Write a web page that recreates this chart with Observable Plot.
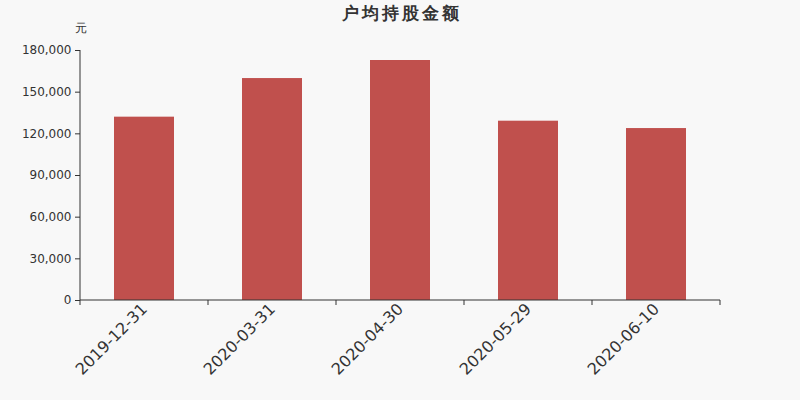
<!DOCTYPE html>
<html>
<head>
<meta charset="utf-8">
<script src="https://cdn.jsdelivr.net/npm/d3@7"></script>
<script src="https://cdn.jsdelivr.net/npm/@observablehq/plot@0.6"></script>
<style>
  html, body { margin: 0; padding: 0; background: #f8f8f8; }
  #chart svg { display: block; }
  .title-mark text { letter-spacing: 3px; }
</style>
</head>
<body>
<div id="chart"></div>
<script>
const dates = ["2019-12-31", "2020-03-31", "2020-04-30", "2020-05-29", "2020-06-10"];
const values = [132000, 159800, 172800, 129100, 123800];
const yTicks = [0, 30000, 60000, 90000, 120000, 150000, 180000];
const title = "户均持股金额";
const unit = "元";

const data = dates.map((d, i) => ({date: d, value: values[i]}));
const font = "'DejaVu Sans', sans-serif";

function axisLines(index, scales, values, dims) {
  const g = d3.create("svg:g").attr("stroke", "#333");
  const x0 = dims.marginLeft, x1 = dims.width - dims.marginRight;
  const yb = dims.height - dims.marginBottom;
  const n = scales.x.domain().length;
  for (let i = 0; i <= n; i++) {
    const xx = x0 + i * (x1 - x0) / n;
    g.append("line").attr("x1", xx).attr("x2", xx).attr("y1", yb).attr("y2", yb + 5);
  }
  g.append("line").attr("x1", x0).attr("x2", x0).attr("y1", dims.marginTop).attr("y2", yb);
  g.append("line").attr("x1", x0).attr("x2", x1).attr("y1", yb).attr("y2", yb);
  return g.node();
}

const chart = Plot.plot({
  width: 800,
  height: 400,
  marginLeft: 80,
  marginRight: 80,
  marginTop: 50,
  marginBottom: 100,
  style: {background: "#f8f8f8", fontFamily: font, color: "#333"},
  x: {domain: dates, paddingInner: 0.53125, paddingOuter: 0.265625, label: null},
  y: {domain: [0, 180000], ticks: yTicks, label: null},
  marks: [
    Plot.barY(data, {x: "date", y: "value", fill: "#c0504d"}),
    Plot.axisY({ticks: yTicks, tickSize: 5, tickPadding: 4, fontSize: 12, tickFormat: d3.format(","), stroke: "#333", fill: "#333", label: null}),
    Plot.axisX({tickRotate: -45, fontSize: 16, tickSize: 0, tickPadding: 6, fill: "#333", label: null}),
    axisLines,
    Plot.text([title], {frameAnchor: "top", dy: -44, dx: 1.5, fontSize: 17, fontWeight: "bold", fill: "#333", text: d => d, className: "title-mark"}),
    Plot.text([unit], {frameAnchor: "top-left", dy: -27, dx: 0, textAnchor: "middle", fontSize: 12, fill: "#333", text: d => d})
  ]
});
document.getElementById("chart").appendChild(chart);
</script>
</body>
</html>
